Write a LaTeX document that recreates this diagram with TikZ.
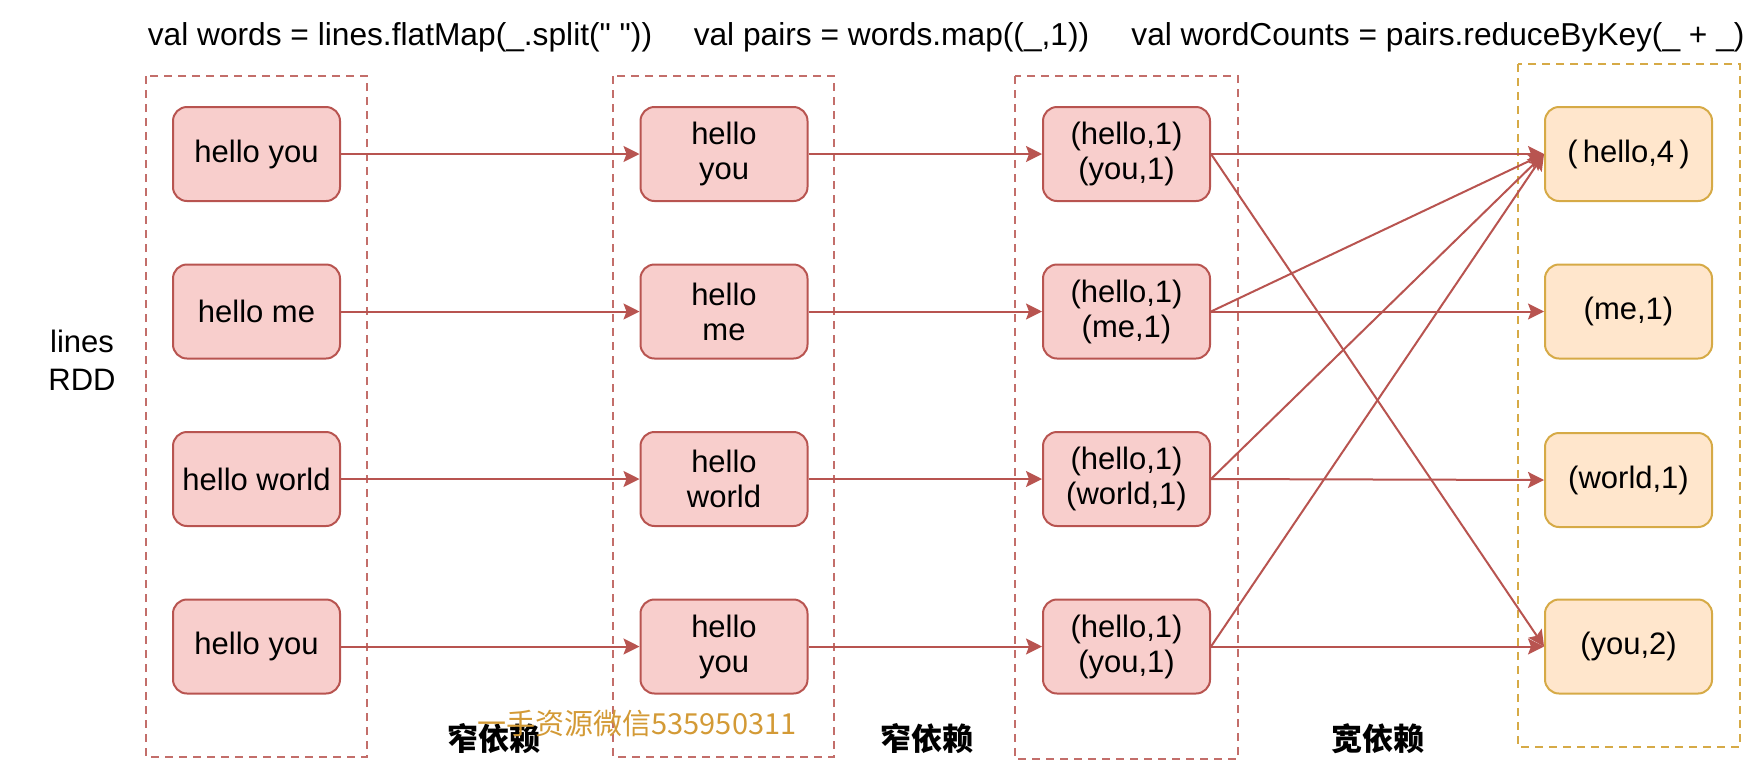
\documentclass[tikz,border=0pt]{standalone}
\usepackage{fontspec}
\setmainfont{Liberation Sans}[Ligatures=TeXOff]
\newfontfamily\cjk{Noto Sans CJK SC}
\usetikzlibrary{arrows.meta}
\definecolor{redfill}{HTML}{F8CECC}
\definecolor{redline}{HTML}{B85450}
\definecolor{goldfill}{HTML}{FFE6CC}
\definecolor{goldline}{HTML}{D6AA46}
\definecolor{markgold}{HTML}{D39A36}
\begin{document}
\begin{tikzpicture}[x=0.5pt, y=-0.5pt,
					font=\fontsize{15.5}{17.5}\selectfont,
					rddbox/.style = {draw=redline, fill=redfill, line width=1pt, rounded corners=7pt,
						minimum width=83.5pt, minimum height=47pt, inner sep=0pt, align=center},
					resultbox/.style = {rddbox, draw=goldline, fill=goldfill},
					stageframe/.style = {draw=redline!85, line width=0.8pt, dash pattern=on 4pt off 3pt},
					deparrow/.style = {draw=redline, line width=1pt, -{Stealth[length=8pt, width=8pt, inset=1.5pt]}},
					deplabel/.style = {font=\fontsize{15.5}{17.5}\selectfont\cjk\bfseries},
					codeline/.style = {font=\fontsize{15.85}{18}\selectfont}
				]
				\useasboundingbox (0,0) rectangle (1754,778);
				\def\colA{256.5}
				\def\colB{724}
				\def\colC{1126.5}
				\def\colD{1628.5}
				% stage frames
				\draw[stageframe] (146,76) rectangle (367,757);
				\draw[stageframe] (613,76) rectangle (834,757);
				\draw[stageframe] (1015,76) rectangle (1238,759);
				\draw[stageframe, draw=goldline] (1518,64) rectangle (1740,747);
				% code lines
				\node[codeline] (wordsop) at (400,37) {val words = lines.flatMap(\_.split(" "))};
				\node[codeline] (pairsop) at (891.5,37) {val pairs = words.map((\_,1))};
				\node[codeline, anchor=west, inner xsep=0pt] (countsop) at (1131,37) {val wordCounts = pairs.reduceByKey(\_ + \_)};
				\node[align=center, font=\fontsize{15.5}{19}\selectfont] (linesrdd) at (82,360) {lines\\RDD};
				% lines
				\node[rddbox] (l1) at (\colA,154) {hello you};
				\node[rddbox] (l2) at (\colA,311.5) {hello me};
				\node[rddbox] (l3) at (\colA,479) {hello world};
				\node[rddbox] (l4) at (\colA,646.5) {hello you};
				% words
				\node[rddbox] (w1) at (\colB,154) {hello\\you};
				\node[rddbox] (w2) at (\colB,311.5) {hello\\me};
				\node[rddbox] (w3) at (\colB,479) {hello\\world};
				\node[rddbox] (w4) at (\colB,646.5) {hello\\you};
				% pairs
				\node[rddbox] (p1) at (\colC,154) {(hello,1)\\(you,1)};
				\node[rddbox] (p2) at (\colC,311.5) {(hello,1)\\(me,1)};
				\node[rddbox] (p3) at (\colC,479) {(hello,1)\\(world,1)};
				\node[rddbox] (p4) at (\colC,646.5) {(hello,1)\\(you,1)};
				% wordCounts
				\node[resultbox] (c1) at (\colD,154) {(\,hello,4\,)};
				\node[resultbox] (c2) at (\colD,311.5) {(me,1)};
				\node[resultbox] (c3) at (\colD,480) {(world,1)};
				\node[resultbox] (c4) at (\colD,646.5) {(you,2)};
				% dependencies
				\draw[deparrow] (l1) -- (w1);
				\draw[deparrow] (l2) -- (w2);
				\draw[deparrow] (l3) -- (w3);
				\draw[deparrow] (l4) -- (w4);
				\draw[deparrow] (w1) -- (p1);
				\draw[deparrow] (w2) -- (p2);
				\draw[deparrow] (w3) -- (p3);
				\draw[deparrow] (w4) -- (p4);
				\draw[deparrow] (p1.east) -- (c1.west);
				\draw[deparrow] (p1.east) -- (c4.west);
				\draw[deparrow] (p2.east) -- (c1.west);
				\draw[deparrow] (p2.east) -- (c2.west);
				\draw[deparrow] (p3.east) -- (c1.west);
				\draw[deparrow] (p3.east) -- (c3.west);
				\draw[deparrow] (p4.east) -- (c1.west);
				\draw[deparrow] (p4.east) -- (c4.west);
				\node[deplabel] (narrowa) at (494,739) {窄依赖};
				\node[deplabel] (narrowb) at (927,739) {窄依赖};
				\node[deplabel] (wide) at (1378,739) {宽依赖};
				\node[font=\fontsize{14.5}{16}\selectfont\cjk, text=markgold] (mark) at (637,724) {一手资源微信535950311};
			\end{tikzpicture}
\end{document}
